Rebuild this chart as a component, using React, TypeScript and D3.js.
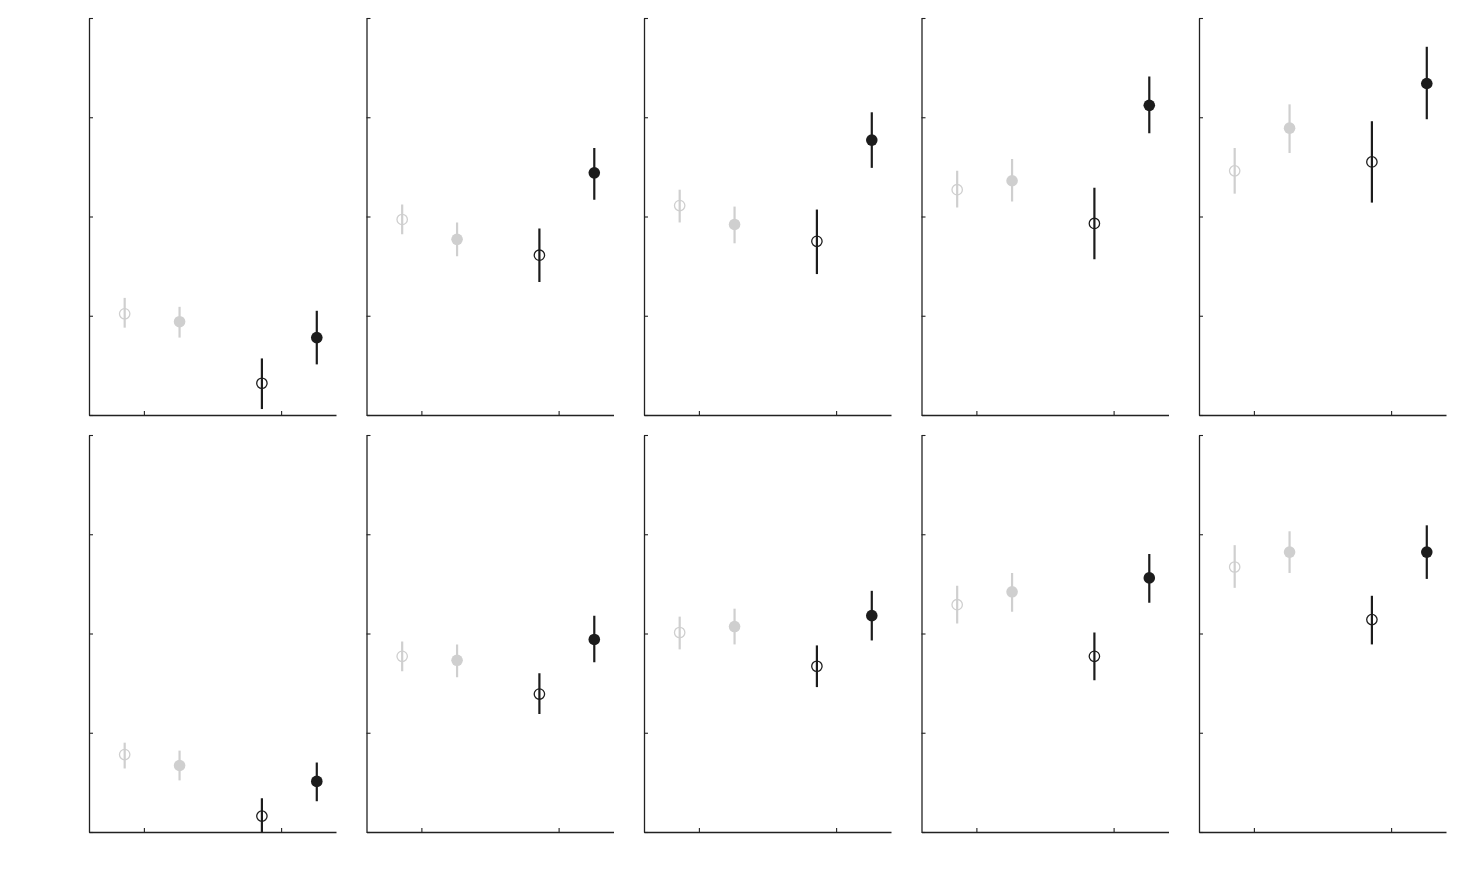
import React, { useEffect, useRef } from "react";
import * as d3 from "d3";

// x position of each condition on the panel's x scale
const conditionX = [0.86, 1.26, 1.86, 2.26];
const conditionNames = ["light open", "light filled", "dark open", "dark filled"];

// per panel (top row left to right, then bottom row)
const lightOpenMean = [1.02, 1.97, 2.11, 2.27, 2.46, 0.78, 1.77, 2.01, 2.29, 2.67];
const lightOpenLow = [0.88, 1.82, 1.94, 2.09, 2.23, 0.64, 1.62, 1.84, 2.1, 2.46];
const lightOpenHigh = [1.18, 2.12, 2.27, 2.46, 2.69, 0.9, 1.92, 2.17, 2.48, 2.89];

const lightFilledMean = [0.94, 1.77, 1.92, 2.36, 2.89, 0.67, 1.73, 2.07, 2.42, 2.82];
const lightFilledLow = [0.78, 1.6, 1.73, 2.15, 2.64, 0.52, 1.56, 1.89, 2.22, 2.61];
const lightFilledHigh = [1.09, 1.94, 2.1, 2.58, 3.13, 0.82, 1.89, 2.25, 2.61, 3.03];

const darkOpenMean = [0.32, 1.61, 1.75, 1.93, 2.55, 0.16, 1.39, 1.67, 1.77, 2.14];
const darkOpenLow = [0.06, 1.34, 1.42, 1.57, 2.14, -0.02, 1.19, 1.46, 1.53, 1.89];
const darkOpenHigh = [0.57, 1.88, 2.07, 2.29, 2.96, 0.34, 1.6, 1.88, 2.01, 2.38];

const darkFilledMean = [0.78, 2.44, 2.77, 3.12, 3.34, 0.51, 1.94, 2.18, 2.56, 2.82];
const darkFilledLow = [0.51, 2.17, 2.49, 2.84, 2.98, 0.31, 1.71, 1.93, 2.31, 2.55];
const darkFilledHigh = [1.05, 2.69, 3.05, 3.41, 3.71, 0.7, 2.18, 2.43, 2.8, 3.09];

const yTicks = [0, 1, 2, 3, 4];
const xTicks = [1, 2];

const means = [lightOpenMean, lightFilledMean, darkOpenMean, darkFilledMean];
const lows = [lightOpenLow, lightFilledLow, darkOpenLow, darkFilledLow];
const highs = [lightOpenHigh, lightFilledHigh, darkOpenHigh, darkFilledHigh];

const lightColor = "#cfcfcf";
const darkColor = "#1c1c1c";

const App = () => {
  const ref = useRef<SVGSVGElement>(null);

  const width = 1476;
  const height = 886;
  const panelW = 247;
  const panelH = 397;
  const left0 = 89;
  const top0 = 18;
  const colStep = 277.5;
  const rowStep = 417;

  useEffect(() => {
    const svg = d3.select(ref.current);
    svg.selectAll("*").remove();

    const x = d3.scaleLinear().domain([0.6, 2.4]).range([0, panelW]);
    const y = d3.scaleLinear().domain([0, 4]).range([panelH, 0]);

    for (let p = 0; p < 10; p++) {
      const col = p % 5;
      const row = Math.floor(p / 5);
      const g = svg
        .append("g")
        .attr("transform", `translate(${left0 + col * colStep}, ${top0 + row * rowStep})`);

      const clipId = `clip-${p}`;
      g.append("clipPath")
        .attr("id", clipId)
        .append("rect")
        .attr("x", 0)
        .attr("y", 0)
        .attr("width", panelW)
        .attr("height", panelH);

      const plot = g.append("g").attr("clip-path", `url(#${clipId})`);

      const points = conditionNames.map((name, i) => ({
        name,
        x: conditionX[i],
        mean: means[i][p],
        low: lows[i][p],
        high: highs[i][p],
        color: i < 2 ? lightColor : darkColor,
        filled: i % 2 === 1,
      }));

      plot.selectAll(".err")
        .data(points)
        .enter().append("line")
        .attr("class", "err")
        .attr("x1", (d) => x(d.x))
        .attr("x2", (d) => x(d.x))
        .attr("y1", (d) => y(d.low))
        .attr("y2", (d) => y(d.high))
        .attr("stroke", (d) => d.color)
        .attr("stroke-width", 2.2);

      plot.selectAll(".pt")
        .data(points)
        .enter().append("circle")
        .attr("class", "pt")
        .attr("cx", (d) => x(d.x))
        .attr("cy", (d) => y(d.mean))
        .attr("r", (d) => (d.filled ? 5.8 : 5.2))
        .attr("fill", (d) => (d.filled ? d.color : "white"))
        .attr("fill-opacity", (d) => (d.filled ? 1 : 0))
        .attr("stroke", (d) => d.color)
        .attr("stroke-width", (d) => (d.filled ? 0 : 1.3));

      const yAxis = g.append("g")
        .call(d3.axisLeft(y).tickValues(yTicks).tickSizeInner(-4).tickSizeOuter(0).tickFormat(() => ""));
      const xAxis = g.append("g")
        .attr("transform", `translate(0, ${panelH})`)
        .call(d3.axisBottom(x).tickValues(xTicks).tickSizeInner(-4).tickSizeOuter(0).tickFormat(() => ""));

      [yAxis, xAxis].forEach((a) => {
        a.select(".domain").attr("stroke", "#222").attr("stroke-width", 1.3);
        a.selectAll(".tick line").attr("stroke", "#222").attr("stroke-width", 1.1);
      });
    }
  }, []);

  return (
    <svg
      ref={ref}
      width={width}
      height={height}
      style={{ position: "absolute", left: 0, top: 0, display: "block", background: "white" }}
    ></svg>
  );
};

export default App;
